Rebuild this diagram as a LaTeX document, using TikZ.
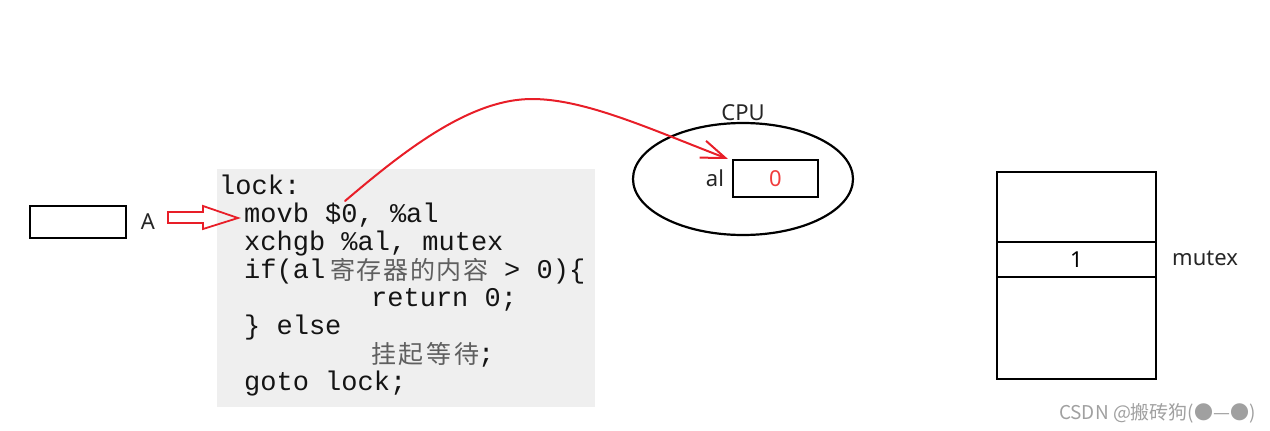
\documentclass[tikz,border=0pt]{standalone}
\usepackage{fontspec}
\setmainfont{Noto Sans}
\setmonofont{Liberation Mono}
\newfontfamily\cjk{Noto Sans CJK SC}
\usetikzlibrary{arrows.meta,shapes.geometric}
\definecolor{myred}{RGB}{232,30,40}
\definecolor{valred}{RGB}{240,60,60}
\definecolor{codebg}{RGB}{239,239,239}
\definecolor{codetxt}{RGB}{20,20,20}
\definecolor{cjkgray}{RGB}{95,95,95}
\definecolor{wm}{RGB}{160,160,160}
\begin{document}
\begin{tikzpicture}[x=1pt,y=-1pt,
  code/.style={anchor=base west,inner sep=0pt,font=\ttfamily\fontsize{27}{27}\selectfont,text=codetxt},
  cjkcode/.style={anchor=base west,inner sep=0pt,font=\cjk\fontsize{25}{25}\selectfont,text=cjkgray},
  lbl/.style={inner sep=0pt,font=\fontsize{22}{22}\selectfont,text=black!85},
  box/.style={draw,line width=2.5pt,inner sep=0pt},
  redline/.style={draw=myred,line width=2pt,line cap=round}]
\useasboundingbox (0,0) rectangle (1270,431);
% code background
\fill[codebg] (217,169) rectangle (595,407);
% thread box and label
\node[box,minimum width=96,minimum height=32] (thr) at (78,222) {};
\node[lbl,anchor=base] (lblA) at (148,229) {A};
% hollow arrow
\draw[myred,line width=1.8pt,line join=miter] (168,212) -- (203,212) -- (203,206) -- (238,218) -- (203,229) -- (203,223) -- (168,223) -- cycle;
% code
\node[code] (l0) at (219,194) {lock:};
\node[code] (l1) at (244,222) {movb \$0, \%al};
\node[code] (l2) at (244,250) {xchgb \%al, mutex};
\node[code] (l3a) at (244,278) {if(al};
\node[cjkcode] (l3b) at (330,279) {\makebox[158pt][s]{寄\hfil 存\hfil 器\hfil 的\hfil 内\hfil 容}};
\node[code] (l3c) at (504,278) {> 0)\{};
\node[code] (l4) at (371,306) {return 0;};
\node[code] (l5) at (244,334) {\} else};
\node[cjkcode] (l6a) at (371,363) {\makebox[108pt][s]{挂\hfil 起\hfil 等\hfil 待}};
\node[code] (l6b) at (478,362) {;};
\node[code] (l7) at (244,390) {goto lock;};
% CPU
\node[ellipse,draw,line width=2.2pt,minimum width=220,minimum height=112,inner sep=0pt] (cpu) at (743,179) {};
\node[lbl,anchor=base] (cpulbl) at (743,120) {CPU};
\node[box,line width=2.2pt,minimum width=85,minimum height=37,font=\fontsize{22}{22}\selectfont,text=valred] (reg) at (775.5,178.5) {0};
\node[lbl,anchor=base] (al) at (715,186) {al};
% mutex memory
\node[box,minimum width=159,minimum height=70] (m1) at (1076.5,207) {};
\node[box,minimum width=159,minimum height=35,font=\fontsize{22}{22}\selectfont] (m2) at (1076.5,259.5) {1};
\node[box,minimum width=159,minimum height=102] (m3) at (1076.5,328) {};
\node[lbl,anchor=base west] (mlbl) at (1172,265) {mutex};
% curve arrow
\coordinate (src) at (345,201);
\draw[redline,-{Straight Barb[length=24pt,width=18pt]}] (src) .. controls (405,150) and (470,99) .. (532,99) .. controls (585,99) and (650,129) .. ([xshift=-4pt]reg.north west);
% watermark
\node[anchor=base east,inner sep=0pt,font=\cjk\fontsize{19}{19}\selectfont,text=wm] (wmk) at (1256,419) {CSDN @搬砖狗(●—●)};
\end{tikzpicture}
\end{document}
